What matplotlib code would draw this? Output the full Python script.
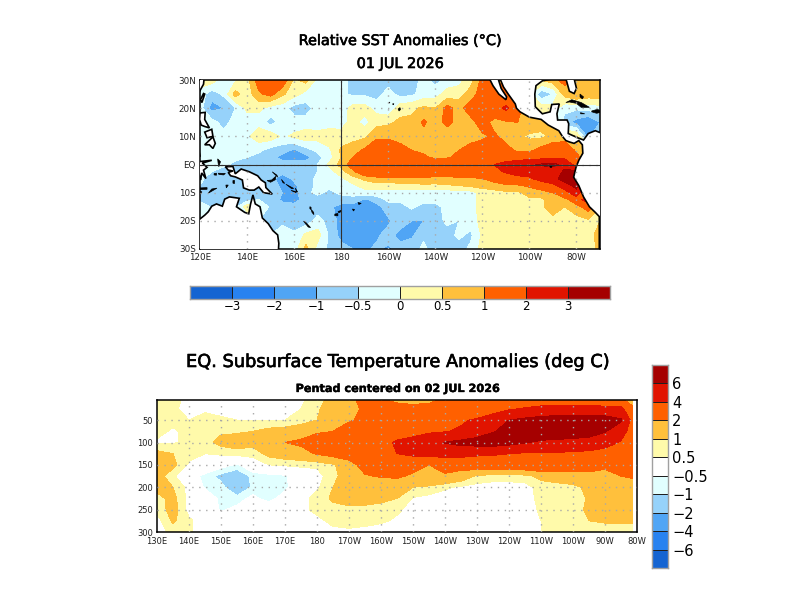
import numpy as np
import matplotlib
matplotlib.use("Agg")
import matplotlib.pyplot as plt
import matplotlib.patheffects as pe
from matplotlib.colors import ListedColormap

# colour table shared by both panels
BLUES = ["#1464d2", "#2882f0", "#50a5f5", "#96d2fa", "#e1ffff"]
WARMS = ["#fffaaa", "#ffc03c", "#ff6000", "#e11400", "#a50000"]

sst_levels = [-3, -2, -1, -0.5, 0, 0.5, 1, 2, 3]
sst_labels = ["\u22123", "\u22122", "\u22121", "\u22120.5", "0", "0.5", "1", "2", "3"]
sub_levels = [-6, -4, -2, -1, -0.5, 0.5, 1, 2, 4, 6]
sub_labels = ["\u22126", "\u22124", "\u22122", "\u22121", "\u22120.5", "0.5", "1", "2", "4", "6"]

# relative SST anomaly, one list per latitude, 120E to 70W every 5 degrees
sst_lon = list(range(120, 295, 5))
sst_lat = [30, 25, 20, 15, 10, 5, 2.5, 0, -2.5, -5, -7.5, -10, -12.5, -15, -20, -25, -30]
sst_30n = [.25, .25, -.25, -.1, .3, 1.3, 1.5, 1.4, .4, .7, -.2, -.3, -.3, -.7, -.7, -.6, -.7, -.8, -.8, -.3, -.7, -.3, -.2, .3, 1.2, 1.2, .5, .5, .5, .5, .8, 1.2, .8, .8, .8]
sst_25n = [-.2, -.8, -.4, .7, .2, .9, 1.2, .6, .2, -.2, -.2, -.3, -.4, -.6, -.6, -.7, -.3, -.7, -.6, -.3, -.2, .2, .3, .7, 1.3, 1.2, 1.2, .5, .2, -.9, -.5, .7, 1, .8, .8]
sst_20n = [-.3, -1.2, -1, -.5, .1, .1, -.2, -.3, -.7, -.7, -.3, -.3, -.3, .2, .2, -.2, -.4, .3, .4, .6, .5, 1.2, .8, 1.3, 1.4, 1.5, 2.2, 1.3, .5, .3, .2, -.3, -.4, -.3, -.2]
sst_15n = [-.3, -.3, -.7, -.3, -.2, -.2, -.7, -.3, -.3, -.3, -.3, -.25, -.2, .2, -.2, .3, .4, .6, .6, 1.1, .7, 1.2, .8, .8, 1.3, .8, .9, 1, .9, .7, .5, -.8, -1.2, -1.5, -1]
sst_10n = [-.3, -.3, -.3, -.3, -.1, .3, .3, -.1, .1, .3, .2, .3, .2, .3, .4, .9, .9, .8, .9, .8, .6, .6, .7, .8, .9, 1.1, .8, .6, .4, .4, .6, .7, .5, -1.2, -.3]
sst_05n = [-.3, -.3, -.3, -.3, -.3, -.4, -.7, -.8, -1.1, -.7, -.4, -.1, .6, .8, 1.1, 1.4, 1.4, 1.2, 1, .9, .8, .9, 1, 1.2, 1.3, 1.3, 1.2, .9, .9, 1.2, 1.5, 1.5, .9, .5, .5]
sst_02n = [-.3, -.3, -.4, -.4, -.5, -.7, -.8, -1.2, -1.3, -1.2, -.7, -.2, .5, 1, 1.5, 1.7, 1.7, 1.5, 1.3, 1.1, .9, .95, 1.1, 1.3, 1.5, 1.5, 1.4, 1.5, 1.6, 1.7, 1.9, 1.8, 1.2, .5, .5]
sst_eq = [-.3, -.3, -.4, -.6, -.5, -.5, -.7, -.7, -.7, -.7, -.5, .1, .7, 1.3, 1.8, 1.9, 1.9, 1.9, 1.9, 1.7, 1.6, 1.6, 1.7, 1.8, 1.9, 2, 2.4, 2.7, 2.9, 3.1, 3.2, 2.8, 1.5, .5, .5]
sst_02s = [-.3, -.5, -.7, -.7, -.7, -.8, -.8, -.8, -.7, -.7, -.5, -.2, .3, .9, 1.6, 1.7, 1.7, 1.7, 1.7, 1.6, 1.5, 1.5, 1.5, 1.5, 1.6, 1.8, 2.1, 2.3, 2.3, 2.5, 2.6, 3.1, 3.2, .5, .5]
sst_05s = [-.4, -.7, -.7, -.7, -.7, -.8, -.8, -1.3, -.9, -.7, -.4, -.2, -.1, .3, .6, .8, .9, .9, .9, .9, .8, .8, .9, .9, 1, 1.2, 1.5, 1.8, 1.9, 2.3, 2.6, 3.5, 3.7, .5, .5]
sst_07s = [-.5, -.6, -.6, -.7, -.7, -.7, -.8, -1.1, -1.1, -.7, -.4, -.4, -.3, -.1, .2, .3, .2, .3, .3, .4, .4, .45, .5, .6, .7, .8, .9, .9, 1.1, 1.5, 1.8, 2.5, 3.3, .5, .5]
sst_10s = [-.6, -.7, -.6, -.7, -.7, -.6, -.7, -1, -1.2, -.6, -.4, -.6, -.4, -.3, -.2, -.2, -.2, -.2, -.2, -.3, -.3, -.3, -.25, -.2, .2, .3, .4, .4, .7, .7, 1, 1.6, 2.7, .5, .5]
sst_12s = [-.7, -.7, -.7, -.7, -.7, -.5, -.7, -1.1, -1.1, -.9, -.7, -.7, -.7, -.7, -1.1, -.8, -.4, -.4, -.3, -.3, -.3, -.3, -.25, -.2, .2, .3, .3, .3, .4, .4, .8, .8, 1.4, 2.7, .5]
sst_15s = [0, -.6, -.6, -.7, .3, 0, -.6, -.8, -.9, -.8, -.8, -.9, -1.2, -1.2, -1.3, -1.2, -.7, -.7, -.4, -.7, -.7, -.3, -.3, -.2, .2, .3, .3, .3, .3, .4, .8, .5, .8, 1.3, .5]
sst_20s = [-.5, -.5, -.5, -.5, -.5, -.5, -.7, -.6, -.8, -.8, -.3, -.7, -1.2, -1.3, -1.3, -1.3, -1.1, -.7, -1, -1, -.7, -.4, -.5, -.3, .2, .3, .3, .3, .3, .3, .3, .3, .3, .4, .5]
sst_25s = [-.3, -.3, -.3, -.3, -.3, -.3, -.5, -.3, -.4, .1, .2, -.6, -1.2, -1.3, -1.3, -1.1, -.8, -1.2, -1.1, -.6, -.5, -.7, -.4, -.6, .1, .3, .3, .3, .3, .3, .3, .3, .3, .3, .7]
sst_30s = [-.3, -.3, -.3, -.3, -.3, -.3, -.3, -.5, -.3, .7, -.2, -.6, -.8, -1, -1.1, -.9, -1.1, -.8, -.7, -.4, -.7, -.7, -.7, -.4, .2, .3, .3, .3, .3, .4, .3, .3, .3, .3, .6]
sst_rows = [sst_30n, sst_25n, sst_20n, sst_15n, sst_10n, sst_05n, sst_02n, sst_eq, sst_02s,
            sst_05s, sst_07s, sst_10s, sst_12s, sst_15s, sst_20s, sst_25s, sst_30s]

# equatorial subsurface anomaly, one list per depth, 130E to 81W
sub_lon = list(range(130, 280, 5)) + [278.5]
sub_depth = [5, 25, 50, 75, 100, 125, 150, 175, 200, 225, 250, 275, 300]
sub_005 = [.7, .7, .3, .2, .2, .2, .2, .2, .2, .4, .8, 1.2, 1.6, 2.5, 2.1, 1.8, 1.6, 1.7, 2.2, 2.4, 2.5, 2.6, 2.7, 2.7, 2.8, 2.8, 2.7, 2.6, 2.5, 2.3, 1.2]
sub_025 = [.7, .6, .3, .4, .3, .3, .3, .3, .3, .5, .9, 1.4, 1.8, 2.1, 2.3, 2.4, 2.4, 2.5, 2.6, 2.7, 2.9, 3.2, 3.8, 4.2, 4.6, 4.8, 4.8, 4.8, 4.7, 4.5, 2.5]
sub_050 = [.7, .6, .5, .7, .6, .5, .5, .5, .5, .7, 1, 1.5, 1.9, 2.2, 2.5, 2.7, 3, 3.1, 3.4, 3.8, 4.2, 5, 6, 6.4, 6.7, 6.8, 6.8, 6.9, 6.8, 6.2, 3.5]
sub_075 = [.6, .45, .6, .7, .9, .9, 1, 1.2, 1.3, 1.5, 1.8, 2, 2.5, 2.8, 3, 3.3, 3.5, 3.8, 3.9, 4.2, 5, 5.9, 6.5, 7, 7.2, 7.3, 7.2, 7, 6.1, 5, 3]
sub_100 = [.45, .45, .6, .8, 1.2, 1.4, 1.2, 1.3, 2, 2.2, 2.8, 3, 3.3, 3.4, 3.5, 4.2, 4.5, 5, 6.1, 6.5, 6.8, 6.9, 6.6, 6.1, 5.7, 5.5, 5.3, 5.1, 4.8, 3.8, 2.6]
sub_125 = [1.2, 1, .7, .5, .6, .7, .7, 1.2, 1.4, 1.6, 2.1, 2.4, 2.7, 3, 3.3, 4, 4.4, 4.6, 4.9, 4.7, 4.3, 4.2, 4, 3.8, 3.8, 3.8, 3.7, 3.6, 3.2, 2.8, 2.4]
sub_150 = [1.3, 1.2, .4, .2, -.2, -.6, .1, .5, .6, .6, .6, .9, 1.5, 2.5, 2.8, 3, 2.5, 2, 2.3, 2.5, 2.8, 2.9, 3, 3, 3.1, 3.1, 3.1, 3, 2.2, 2.6, 2.4]
sub_175 = [1.3, .6, -.1, -.7, -1.2, -1.6, -.8, -.7, -.6, .1, .3, .8, 1.4, 1.9, 2.1, 2.2, 1.8, 1.7, 1.9, 1.5, .9, .7, .7, .8, 1.2, 1.3, 1.3, 1.4, 1.7, 2, 2.1]
sub_200 = [1.2, 1, .3, -.6, -.8, -1.6, -.9, -.7, -.7, .2, .4, 1, 1.2, 1.3, 1.3, 1.2, 1, .9, .6, .4, .3, .3, .3, .3, .7, .8, .9, 1.1, 1.3, 1.4, 1.6]
sub_225 = [.8, 1.2, .3, .1, -.7, -.8, -.3, -.8, -.1, .3, .7, 1.1, 1.3, 1.3, 1.2, 1, .45, .3, .2, .2, .2, .2, .2, .2, .7, .7, .8, 1.05, 1.2, 1.3, 1.4]
sub_250 = [.6, 1.3, .3, .1, -.6, -.3, .2, .2, .2, .4, .6, .8, .85, .8, .7, .6, .3, .2, .2, .2, .2, .2, .2, .2, .6, .7, .8, 1.1, 1.1, 1.2, 1.2]
sub_275 = [.3, 1.1, .6, .2, .1, .2, .2, .2, .2, .2, .4, .6, .7, .7, .6, .4, .2, .2, .2, .2, .2, .2, .2, .2, .5, .7, .8, 1, 1.05, 1.05, 1.1]
sub_300 = [.2, .7, .6, .2, .2, .2, .2, .2, .2, .2, .3, .4, .4, .3, .2, .2, .2, .2, .2, .2, .2, .2, .2, .2, .5, .7, .7, .8, .8, .8, .7]
sub_rows = [sub_005, sub_025, sub_050, sub_075, sub_100, sub_125, sub_150, sub_175, sub_200,
            sub_225, sub_250, sub_275, sub_300]

# coastlines as lon/lat outlines
americas = [(243, 30.5), (245, 30.5), (247.5, 30.5), (249, 27.5), (251, 25), (254, 21.5), (254.5, 20), (256, 18.7), (260, 16.8), (265, 16), (268, 14),
            (272.5, 12), (274, 10), (275.5, 8.5), (277, 8), (279, 7.5), (281, 8.5), (282.5, 7), (282.7, 4), (281, 1.5), (279.8, -1),
            (278.8, -4.5), (281, -7.5), (283, -11.5), (285.5, -15), (288, -17), (289.7, -18.5), (289.7, -31), (291, -31), (291, 11),
            (288, 12), (285, 11), (283, 8.7), (280.5, 9.5), (276.5, 11), (276.7, 14.5), (276, 15.8), (272, 15.8), (271.7, 18),
            (272.7, 21.5), (269.5, 21.3), (268.8, 18.7), (265.5, 18), (262.5, 20.5), (262.3, 25), (262.8, 28), (265.5, 29.7), (270.5, 30.5), (274, 31), (243, 31)]
baja = [(243, 30.5), (244.5, 28), (247, 25), (250, 23), (250.3, 24), (248, 27), (246.7, 30.5)]
florida = [(275.5, 30.5), (277, 26), (279, 25.2), (280, 27), (279, 30.5)]
cuba = [(275.5, 22), (278, 23), (282, 22), (285.5, 20.3), (282, 20.3), (280, 21.7), (277, 22.2)]
hispaniola = [(286.5, 19), (289, 19.6), (291, 18.5), (288.5, 18.2), (286.5, 18.7)]
jamaica = [(281.7, 18.4), (283.5, 18), (281.8, 18)]
asia = [(119, 31), (121.8, 31), (121.5, 28.5), (119.5, 25.5), (119, 25)]
taiwan = [(120.2, 23), (121.5, 25.2), (122, 25), (120.8, 22)]
luzon = [(120, 18.3), (122.2, 18.5), (122, 16), (124, 13), (122, 13.5), (120.5, 14), (119.8, 16)]
visayas = [(122, 11.5), (125, 12.5), (125.5, 10), (123, 9.5)]
mindanao = [(122, 7), (125.5, 9.8), (126.5, 7.5), (125.5, 5.7), (124, 7)]
borneo = [(118, 5), (119.5, 5), (120, 3), (118, 1), (118, 5)]
sulawesi = [(119.5, 1), (125, 1.5), (121, .5), (123, -1), (121.5, -2), (122.5, -5), (120.7, -3), (120.3, -5.5), (119.5, -3)]
halmahera = [(127.5, 2), (128.7, 1), (128, -.8), (127.7, .5)]
seram = [(127.8, -3.1), (130.8, -3.2), (130, -3.7), (128, -3.5)]
buru = [(126, -3.2), (127, -3.1), (127, -3.8), (126, -3.7)]
timor = [(123.5, -10.2), (127.2, -8.4), (125, -8.7)]
flores = [(118, -8.4), (123, -8.2), (123, -8.8), (118, -9)]
sumba = [(119.5, -9.5), (120.8, -9.7), (120.5, -10.2)]
tanimbar = [(131, -7.3), (132, -7.3), (131.2, -8.3)]
aru = [(134, -5.7), (134.7, -5.7), (134.6, -6.8), (134, -6.6)]
new_guinea = [(130.8, -.8), (134, -.7), (135, -3.3), (137.5, -1.6), (141, -2.6), (144.5, -4), (146, -5.5), (147.8, -6.5), (148, -8.2), (150.7, -10.5),
              (147, -10), (145, -8), (143, -9.1), (141, -9.1), (138.5, -8.3), (138, -5.5), (135, -4.4), (133, -4), (132, -2.8), (134, -2.3), (132, -2)]
australia = [(119, -20), (122, -18), (123.5, -16.8), (125, -14.8), (127, -14), (129.5, -14.8), (130.5, -12.3), (132.5, -11.5), (136.7, -12), (135.5, -15),
             (139, -17), (140.7, -17.5), (141.5, -14), (142.5, -10.8), (143.5, -14), (145.5, -15), (146.5, -19), (149, -21), (151, -23.5), (153, -25),
             (153.5, -28), (153.3, -31), (119, -31)]
new_britain = [(148.5, -5.7), (150.5, -5.5), (152.2, -4.2), (152, -5.4), (150, -6.3)]
new_ireland = [(150.7, -2.6), (153, -4.5), (152.7, -3.8)]
bougainville = [(154.6, -5.3), (156, -6.7), (155.3, -6.5)]
solomons_a = [(156.5, -7), (159.8, -8.5), (159, -8.6)]
solomons_b = [(158.7, -9.2), (161, -9.7), (160.7, -10)]
solomons_c = [(160.5, -8.4), (161.5, -9.8), (161, -9.6)]
vanuatu_a = [(166.7, -15), (167.2, -15.2), (167.2, -16), (166.7, -15.7)]
vanuatu_b = [(167.3, -16), (168.3, -17), (168.4, -17.8), (167.6, -17)]
new_caledonia = [(164, -20.1), (165, -20.6), (167, -22.4), (166, -22.2)]
viti_levu = [(177.3, -17.6), (178.6, -17.4), (178.6, -18.2), (177.3, -18.2)]
vanua_levu = [(178.7, -16.7), (180, -16.3), (179.5, -17), (178.8, -17)]
tonga = [(184.8, -15.8), (185.7, -16), (185.2, -16.5)]
samaa = [(187.2, -13.5), (188.5, -13.8), (187.5, -14.2)]
hawaii = [(204.2, 19.7), (205, 20.2), (205.2, 19.5), (204.6, 19)]
oahu = [(201.8, 21.5), (202.4, 21.6), (202.2, 21.2)]
kauai = [(200.3, 22.1), (200.7, 22.1), (200.5, 21.8)]
galapagos = [(268.7, -.3), (269.6, -.3), (269.5, -1), (268.8, -1)]
bahamas = [(281.5, 25), (283, 24), (282.5, 23.3), (281.5, 24)]
white_land = [americas, baja, florida, asia, new_guinea, australia, borneo, sulawesi, taiwan, luzon, visayas, mindanao]
small_islands = [cuba, hispaniola, jamaica, halmahera, seram, buru, timor, flores, sumba,
                 tanimbar, aru, new_britain, new_ireland, bougainville, solomons_a, solomons_b, solomons_c, vanuatu_a, vanuatu_b,
                 new_caledonia, viti_levu, vanua_levu, tonga, samaa, hawaii, oahu, kauai, galapagos, bahamas]

WIDTH = 800
HEIGHT = 600


def pixelAxes(fig, left, top, right, bottom):
    return fig.add_axes([left / WIDTH, 1 - bottom / HEIGHT, (right - left) / WIDTH, (bottom - top) / HEIGHT])


def label(fig, x, y, text, size, weight="normal", stroke=0.45):
    t = fig.text(x / WIDTH, 1 - y / HEIGHT, text, ha="center", va="center", fontsize=size, fontweight=weight)
    # titles are drawn a little heavier than the regular weight
    t.set_path_effects([pe.withStroke(linewidth=stroke, foreground="black")])


def lonLabel(lon):
    if lon < 180:
        return str(lon) + "E"
    if lon == 180:
        return "180"
    return str(360 - lon) + "W"


def dots(ax, xs, ys):
    for x in xs:
        ax.axvline(x, color="#a8a8a8", lw=1.0, ls=(0, (1, 4)), zorder=5)
    for y in ys:
        ax.axhline(y, color="#a8a8a8", lw=1.0, ls=(0, (1, 4)), zorder=5)


def colorBar(ax, colors, tick_labels, horizontal, size):
    n = len(colors)
    cmap = ListedColormap(colors)
    index = np.arange(n).reshape(1, -1)
    if horizontal:
        ax.pcolormesh(np.arange(n + 1), [0, 1], index, cmap=cmap, edgecolors="#202020", linewidth=0.6)
        ax.set_xlim(0, n)
        ax.set_ylim(0, 1)
        ax.set_yticks([])
        ax.set_xticks(np.arange(1, n))
        ax.set_xticklabels(tick_labels, fontsize=size)
        ax.tick_params(axis="x", length=0, pad=0.8)
    else:
        ax.pcolormesh([0, 1], np.arange(n + 1), index.T, cmap=cmap, edgecolors="#202020", linewidth=0.6)
        ax.set_xlim(0, 1)
        ax.set_ylim(0, n)
        ax.set_xticks([])
        ax.set_yticks(np.arange(1, n))
        ax.set_yticklabels(tick_labels, fontsize=size)
        ax.yaxis.tick_right()
        ax.tick_params(axis="y", length=0, pad=3)
    for spine in ax.spines.values():
        spine.set_edgecolor("#a0a0a0")
        spine.set_linewidth(1.0)


def drawSst(fig):
    ax = pixelAxes(fig, 200, 80, 600, 249)
    colors = BLUES + WARMS
    ax.contourf(sst_lon, sst_lat, np.array(sst_rows), levels=sst_levels, colors=colors, extend="both")
    for outline in white_land:
        pts = np.array(outline)
        ax.fill(pts[:, 0], pts[:, 1], facecolor="white", edgecolor="black", lw=1.2, zorder=3)
    for outline in small_islands:
        pts = np.array(outline)
        ax.fill(pts[:, 0], pts[:, 1], facecolor="black", edgecolor="black", lw=0.5, zorder=3)
    lon_ticks = list(range(120, 281, 20))
    lat_ticks = list(range(-30, 31, 10))
    dots(ax, lon_ticks[1:], lat_ticks[1:-1])
    ax.axvline(180, color="#303030", lw=0.8, zorder=6)
    ax.axhline(0, color="#303030", lw=0.8, zorder=6)
    ax.set_xlim(120, 290)
    ax.set_ylim(-30, 30)
    ax.set_xticks(lon_ticks)
    ax.set_xticklabels([lonLabel(x) for x in lon_ticks], fontsize=6.3)
    ax.set_yticks(lat_ticks)
    lat_names = ["30S", "20S", "10S", "EQ", "10N", "20N", "30N"]
    ax.set_yticklabels(lat_names, fontsize=6.3)
    ax.tick_params(axis="x", length=0, pad=3, colors="#202020")
    ax.tick_params(axis="y", length=0, pad=3, colors="#202020")
    for spine in ax.spines.values():
        spine.set_linewidth(1.1)

    bar = pixelAxes(fig, 190, 286, 610, 299)
    colorBar(bar, colors, sst_labels, True, 8.5)


def drawSubsurface(fig):
    ax = pixelAxes(fig, 157, 400, 637, 532)
    colors = BLUES + ["#ffffff"] + WARMS
    ax.contourf(sub_lon, sub_depth, np.array(sub_rows), levels=sub_levels, colors=colors, extend="both")
    lon_ticks = list(range(130, 281, 10))
    depth_ticks = list(range(50, 301, 50))
    dots(ax, lon_ticks[1:-1], depth_ticks[:-1])
    ax.set_xlim(130, 280)
    ax.set_ylim(300, 5)
    ax.set_xticks(lon_ticks)
    ax.set_xticklabels([lonLabel(x) for x in lon_ticks], fontsize=6)
    ax.set_yticks(depth_ticks)
    ax.set_yticklabels([str(d) for d in depth_ticks], fontsize=6)
    ax.tick_params(axis="x", length=0, pad=3.5, colors="#202020")
    ax.tick_params(axis="y", length=0, pad=3, colors="#202020")
    for spine in ax.spines.values():
        spine.set_linewidth(1.1)

    bar = pixelAxes(fig, 652, 365, 668, 568)
    colorBar(bar, colors, sub_labels, False, 10.5)


def main():
    plt.rcParams["font.family"] = "DejaVu Sans"
    fig = plt.figure(figsize=(8, 6), dpi=100)
    drawSst(fig)
    drawSubsurface(fig)
    label(fig, 400, 41, "Relative SST Anomalies (\u00b0C)", 10.4)
    label(fig, 400, 64, "01 JUL 2026", 10.4)
    label(fig, 398, 362, "EQ. Subsurface Temperature Anomalies (deg C)", 12.8)
    label(fig, 398, 389, "Pentad centered on 02 JUL 2026", 8.1, "bold", 0.25)
    fig.savefig("out.png", dpi=100)


if __name__ == "__main__":
    main()
